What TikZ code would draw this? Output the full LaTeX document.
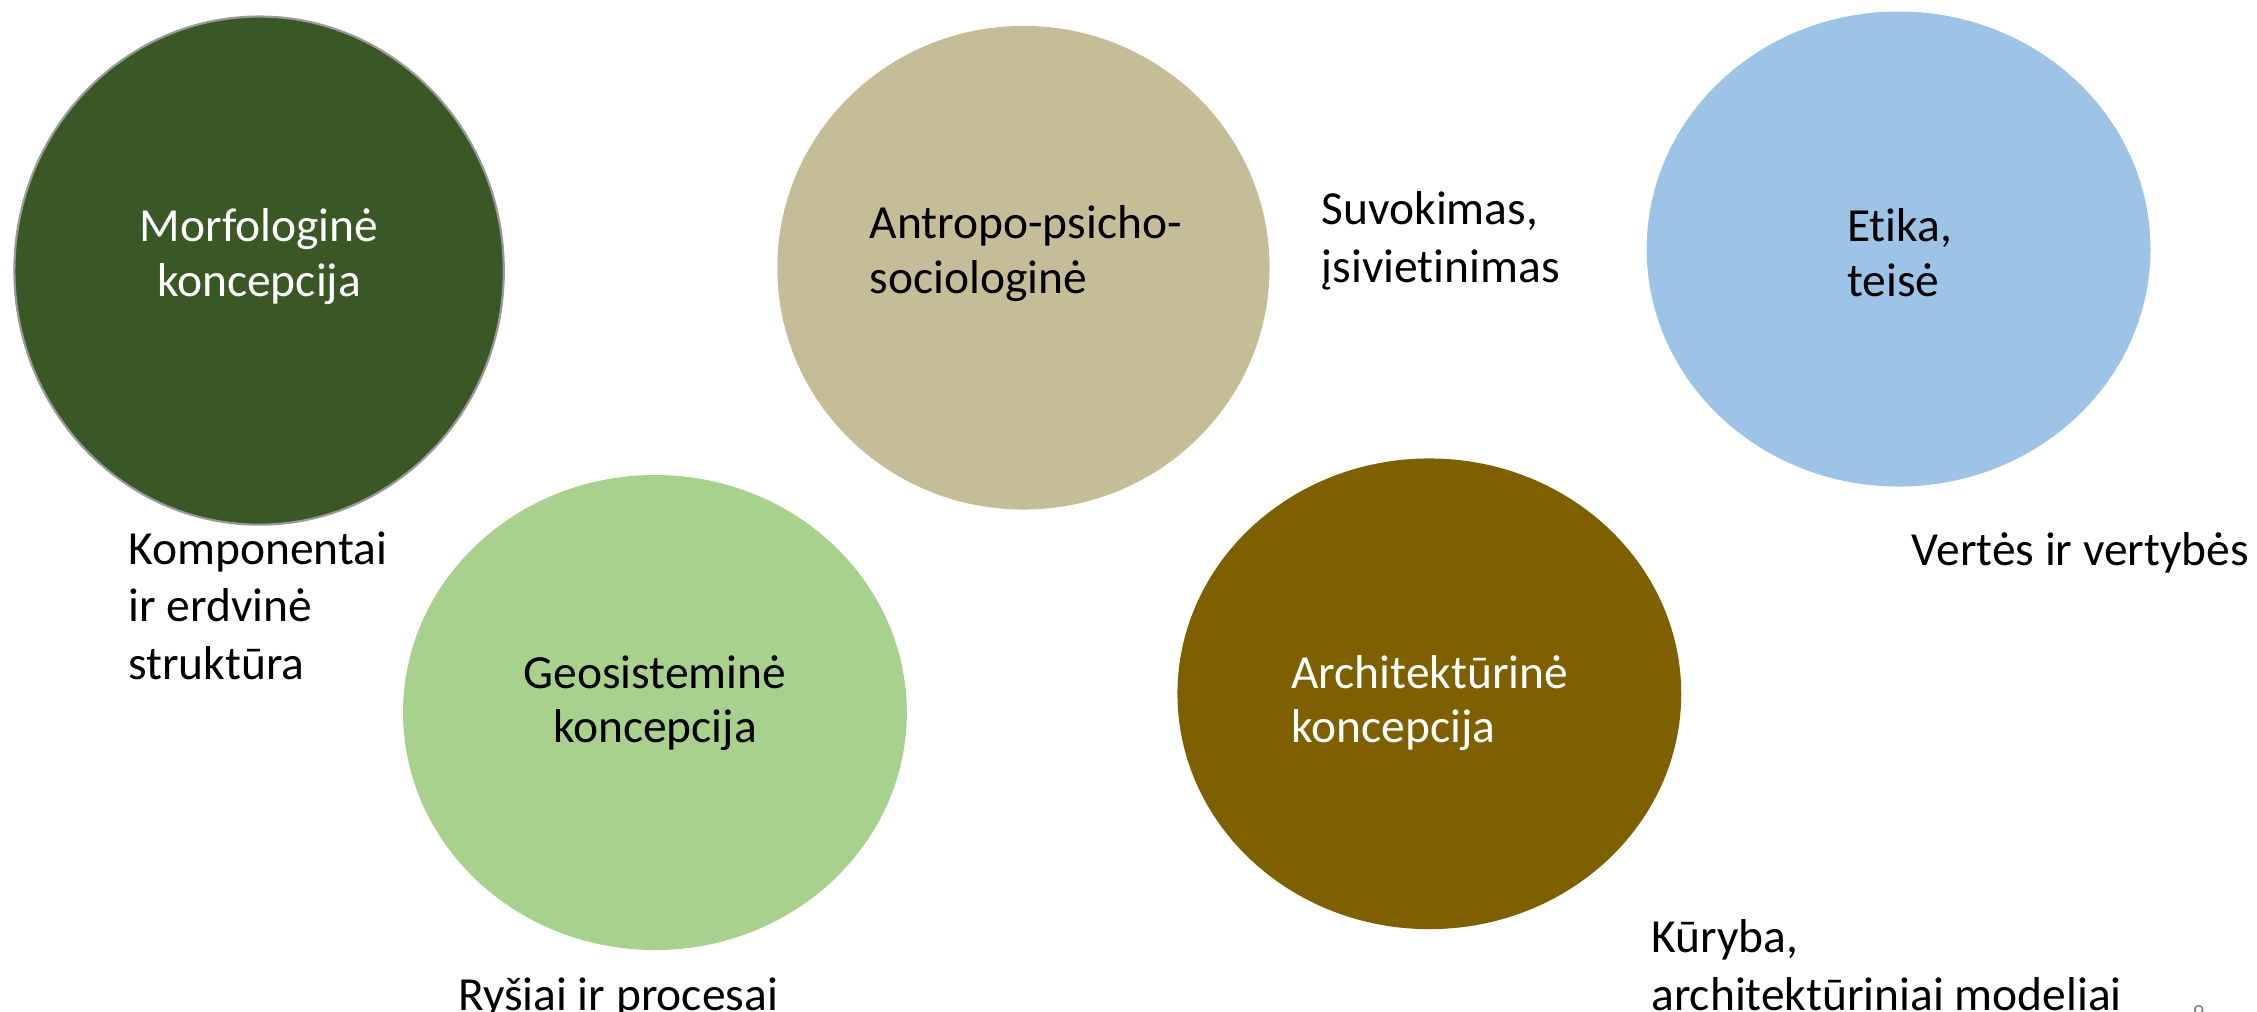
\documentclass[tikz,border=0pt]{standalone}
\usepackage{fontspec}
\setmainfont{Carlito}[Ligatures=NoCommon]
\usetikzlibrary{shapes.geometric}
\definecolor{dgreen}{HTML}{3A5825}
\definecolor{tan}{HTML}{C4BD97}
\definecolor{lblue}{HTML}{9DC3E6}
\definecolor{lgreen}{HTML}{A9D18E}
\definecolor{brown}{HTML}{7F6000}
\tikzset{
  blob/.style={ellipse, inner sep=0pt, draw=none},
  lbl/.style={inner sep=0pt, font=\fontsize{33}{40}\selectfont, align=left, anchor=base west},
  inlbl/.style={inner sep=0pt, font=\fontsize{33}{38}\selectfont},
}
\begin{document}
\begin{tikzpicture}[x=1pt,y=-1pt]
\useasboundingbox (0,0) rectangle (1568,703);
% ellipses
\node[blob, fill=dgreen, draw=gray!80, line width=1.5pt, minimum width=340pt, minimum height=353pt] (morf) at (180,188) {};
\node[blob, fill=tan, minimum width=342pt, minimum height=336pt] (antr) at (711,186) {};
\node[blob, fill=lblue, minimum width=350pt, minimum height=330pt] (etik) at (1319,173) {};
\node[blob, fill=lgreen, minimum width=350pt, minimum height=330pt] (geos) at (455,495) {};
\node[blob, fill=brown, minimum width=350pt, minimum height=327pt] (arch) at (993,482) {};
% texts inside (anchor = baseline of last line)
\node[inlbl, text=white, align=center, anchor=base] (morft) at (180,206) {Morfologinė\\koncepcija};
\node[inlbl, align=left, anchor=base west] (antrt) at (604,204) {Antropo-psicho-\\sociologinė};
\node[inlbl, align=left, anchor=base west] (etikt) at (1283,206) {Etika,\\teisė};
\node[inlbl, align=center, anchor=base] (geost) at (455,516) {Geosisteminė\\koncepcija};
\node[inlbl, text=white, align=left, anchor=base west] (archt) at (897,516) {Architektūrinė\\koncepcija};
% outside labels
\node[lbl] (suvo) at (918,196) {Suvokimas,\\įsivietinimas};
\node[lbl] (komp) at (89,472) {Komponentai\\ir erdvinė\\struktūra};
\node[lbl] (vert) at (1328,393) {Vertės ir vertybės};
\node[lbl] (kury) at (1147,702) {Kūryba,\\architektūriniai modeliai};
\node[lbl] (rysi) at (318,702) {Ryšiai ir procesai};
\node[inner sep=0pt, anchor=base west, text=gray, font=\fontsize{16}{18}\selectfont] (pnum) at (1523,709) {9};
\end{tikzpicture}
\end{document}
